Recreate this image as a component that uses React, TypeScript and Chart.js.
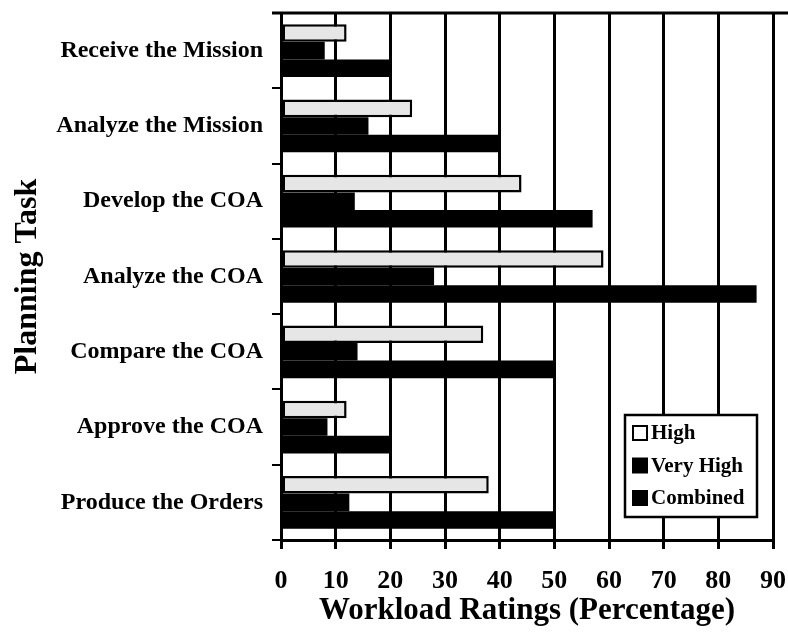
import React, { useEffect, useRef } from "react";
import { Chart, registerables } from "chart.js";

Chart.register(...registerables);

const categories = [
  "Receive the Mission",
  "Analyze the Mission",
  "Develop the COA",
  "Analyze the COA",
  "Compare the COA",
  "Approve the COA",
  "Produce the Orders",
];
const seriesNames = ["High", "Very High", "Combined"];
const highValues = [12, 24, 44, 59, 37, 12, 38];
const veryHighValues = [8, 16, 13.5, 28, 14, 8.5, 12.5];
const combinedValues = [20, 40, 57, 87, 50, 20, 50];
const xTicks = [0, 10, 20, 30, 40, 50, 60, 70, 80, 90];

const FONT = "'Liberation Serif', 'Times New Roman', serif";

const framePlugin = {
  id: "frame",
  afterDraw(chart: any) {
    const { ctx, chartArea } = chart;
    ctx.save();
    ctx.strokeStyle = "#000";
    ctx.lineWidth = 3;
    ctx.beginPath();
    ctx.moveTo(chartArea.left - 9, chartArea.top);
    ctx.lineTo(chart.width, chartArea.top);
    ctx.stroke();

    // legend box
    const boxW = 132;
    const boxH = 102;
    const x0 = chartArea.right - 16 - boxW;
    const y0 = chartArea.bottom - 23 - boxH;
    ctx.fillStyle = "#fff";
    ctx.fillRect(x0, y0, boxW, boxH);
    ctx.lineWidth = 2.5;
    ctx.strokeRect(x0, y0, boxW, boxH);
    ctx.font = `bold 21px ${FONT}`;
    ctx.textBaseline = "middle";
    ctx.textAlign = "left";
    chart.data.datasets.forEach((ds: any, i: number) => {
      const cy = y0 + 18 + i * 32.5;
      const sx = x0 + 8;
      ctx.fillStyle = ds.legendFill;
      ctx.fillRect(sx, cy - 7, 14, 14);
      ctx.strokeStyle = "#000";
      ctx.lineWidth = 2;
      ctx.strokeRect(sx, cy - 7, 14, 14);
      ctx.fillStyle = "#000";
      ctx.fillText(ds.label, sx + 18, cy + 1);
    });
    ctx.restore();
  },
};

export default function App() {
  const ref = useRef<HTMLCanvasElement | null>(null);

  useEffect(() => {
    if (!ref.current) return;
    const chart = new Chart(ref.current, {
      type: "bar",
      data: {
        labels: categories,
        datasets: [
          {
            label: seriesNames[0],
            data: highValues,
            backgroundColor: "#e6e6e6",
            borderColor: "#000",
            borderWidth: 2.5,
            borderSkipped: false,
            categoryPercentage: 0.7,
            barPercentage: 1.0,
            legendFill: "#ffffff",
          } as any,
          {
            label: seriesNames[1],
            data: veryHighValues,
            backgroundColor: "#000",
            borderWidth: 0,
            categoryPercentage: 0.7,
            barPercentage: 1.0,
            legendFill: "#000",
          } as any,
          {
            label: seriesNames[2],
            data: combinedValues,
            backgroundColor: "#000",
            borderWidth: 0,
            categoryPercentage: 0.7,
            barPercentage: 1.0,
            legendFill: "#000",
          } as any,
        ],
      },
      options: {
        indexAxis: "y",
        animation: false,
        responsive: false,
        maintainAspectRatio: false,
        layout: { padding: { top: 13, right: 15, bottom: 0, left: 0 } },
        plugins: {
          legend: { display: false },
          tooltip: { enabled: false },
        },
        scales: {
          x: {
            type: "linear",
            min: 0,
            max: 90,
            afterBuildTicks(scale: any) {
              scale.ticks = xTicks.map((v) => ({ value: v }));
            },
            afterFit(scale: any) {
              scale.height = 94;
              scale.paddingLeft = 0;
              scale.paddingRight = 0;
            },
            ticks: {
              color: "#000",
              font: { family: FONT, size: 26, weight: "bold" },
              padding: 17,
              maxRotation: 0,
              autoSkip: false,
            },
            grid: {
              color: "#000",
              lineWidth: 3,
              tickLength: 9,
            },
            border: { display: true, color: "#000", width: 3 },
            title: {
              display: true,
              text: "Workload Ratings (Percentage)",
              color: "#000",
              font: { family: FONT, size: 31, weight: "bold" },
              padding: { top: 0, bottom: 4 },
            },
          },
          y: {
            afterFit(scale: any) {
              scale.width = 281;
              scale.paddingTop = 0;
              scale.paddingBottom = 0;
            },
            ticks: {
              color: "#000",
              font: { family: FONT, size: 24, weight: "bold" },
              padding: 9,
              autoSkip: false,
            },
            grid: {
              offset: true,
              drawOnChartArea: false,
              drawTicks: true,
              tickLength: 9,
              color: "#000",
              lineWidth: 2,
            },
            border: { display: true, color: "#000", width: 3 },
            title: {
              display: true,
              text: "Planning Task",
              color: "#000",
              font: { family: FONT, size: 32, weight: "bold" },
              padding: { top: 9, bottom: 0 },
            },
          },
        },
      } as any,
      plugins: [framePlugin],
    });
    return () => chart.destroy();
  }, []);

  return (
    <div style={{ position: "absolute", left: 0, top: 0, width: 788, height: 634, background: "#fff" }}>
      <canvas ref={ref} width={788} height={634} style={{ width: 788, height: 634 }} />
    </div>
  );
}
